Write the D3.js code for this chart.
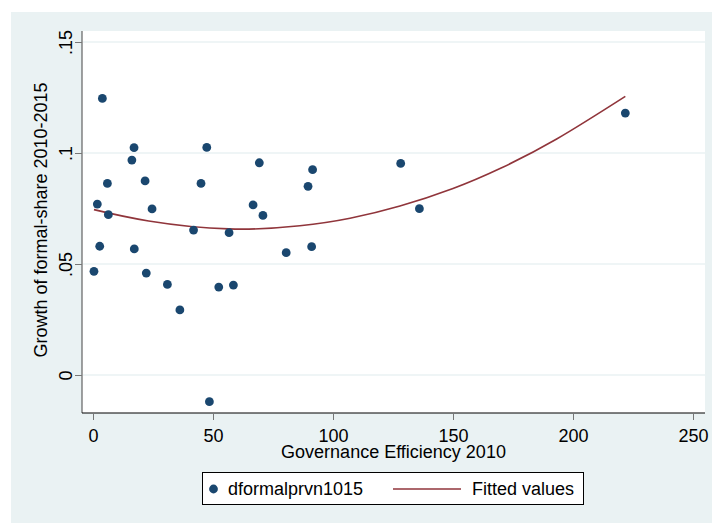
<!DOCTYPE html>
<html>
<head>
<meta charset="utf-8">
<script src="https://cdnjs.cloudflare.com/ajax/libs/d3/7.8.5/d3.min.js"></script>
<style>
  body { margin: 0; background: #ffffff; }
  text { font-family: "Liberation Sans", Arial, sans-serif; fill: #000; }
</style>
</head>
<body>
<script>
// governance efficiency 2010 (x) and growth of formal share (y)
var govEff = [0.4, 3.9, 1.8, 6.0, 6.4, 2.8, 17.1, 16.2, 21.7, 24.6, 17.2, 22.2, 31.0, 36.2,
              41.9, 45.0, 47.4, 48.5, 52.4, 56.7, 58.5, 66.7, 69.3, 70.8, 80.5, 89.6, 91.5,
              91.1, 128.2, 136.0, 221.8];
var growth = [0.0467, 0.1246, 0.0770, 0.0863, 0.0722, 0.0580, 0.1024, 0.0968, 0.0874, 0.0748,
              0.0568, 0.0459, 0.0408, 0.0293, 0.0653, 0.0863, 0.1025, -0.0120, 0.0396, 0.0641,
              0.0405, 0.0766, 0.0956, 0.0719, 0.0551, 0.0850, 0.0925, 0.0578, 0.0953, 0.0749,
              0.1180];

// fitted values (quadratic fit)
var fitX = [0.4, 23.2, 56.5, 86.2, 107.1, 127.9, 150.0, 169.6, 193.2, 221.8];
var fitY = [0.0745, 0.0694, 0.0658, 0.0672, 0.0706, 0.0761, 0.0840, 0.0930, 0.1063, 0.1255];

var xTicks = [0, 50, 100, 150, 200, 250];
var yTicks = [0, 0.05, 0.1, 0.15];
var yTickLabels = ["0", ".05", ".1", ".15"];

var seriesNames = ["dformalprvn1015", "Fitted values"];

var width = 712, height = 523;
var dotColor = "#1a476f", lineColor = "#90353b", bgColor = "#eaf2f3";
var fontSize = "18px";

var svg = d3.select("body").append("svg")
  .attr("width", width)
  .attr("height", height);

// outer graph region
svg.append("rect")
  .attr("x", 11).attr("y", 12)
  .attr("width", width - 11).attr("height", height - 12)
  .attr("fill", bgColor);

var plot = {left: 82, top: 31, right: 705, bottom: 413};

svg.append("rect")
  .attr("x", plot.left).attr("y", plot.top)
  .attr("width", plot.right - plot.left).attr("height", plot.bottom - plot.top)
  .attr("fill", "#ffffff");

var xScale = d3.scaleLinear().domain([0, 250]).range([93, 693]);
var yScale = d3.scaleLinear().domain([0, 0.15]).range([375, 42]);

// gridlines
svg.append("g").selectAll("line")
  .data(yTicks)
  .enter().append("line")
  .attr("x1", plot.left + 1).attr("x2", plot.right)
  .attr("y1", function(d) { return yScale(d); })
  .attr("y2", function(d) { return yScale(d); })
  .attr("stroke", bgColor)
  .attr("stroke-width", 1.5);

// y axis
var yAxis = svg.append("g")
  .attr("transform", "translate(" + plot.left + ",0)")
  .call(d3.axisLeft(yScale).tickValues(yTicks).tickSize(7).tickFormat(function(d, i) { return yTickLabels[i]; }));
yAxis.select(".domain").attr("d", "M0," + plot.top + "V" + plot.bottom).attr("stroke", "#444");
yAxis.selectAll(".tick line").attr("stroke", "#777");
yAxis.selectAll(".tick text")
  .attr("x", null).attr("dy", null)
  .attr("text-anchor", "middle")
  .attr("transform", "translate(-10,0) rotate(-90)")
  .attr("font-size", fontSize)
  .attr("font-family", "Liberation Sans, Arial, sans-serif")
  .attr("fill", "#000");

// x axis
var xAxis = svg.append("g")
  .attr("transform", "translate(0," + plot.bottom + ")")
  .call(d3.axisBottom(xScale).tickValues(xTicks).tickSize(7));
xAxis.select(".domain").attr("d", "M" + plot.left + ",0H" + plot.right).attr("stroke", "#000");
xAxis.selectAll(".tick line").attr("stroke", "#777");
xAxis.selectAll(".tick text")
  .attr("y", 29).attr("dy", null)
  .attr("font-size", fontSize)
  .attr("font-family", "Liberation Sans, Arial, sans-serif")
  .attr("fill", "#000");

// axis titles
svg.append("text")
  .attr("x", (plot.left + plot.right) / 2)
  .attr("y", 458)
  .attr("text-anchor", "middle")
  .attr("font-size", fontSize)
  .text("Governance Efficiency 2010");

svg.append("text")
  .attr("transform", "translate(47,220) rotate(-90)")
  .attr("text-anchor", "middle")
  .attr("font-size", fontSize)
  .text("Growth of formal-share 2010-2015");

// fitted line
var fitData = fitX.map(function(d, i) { return {x: d, y: fitY[i]}; });
var line = d3.line()
  .x(function(d) { return xScale(d.x); })
  .y(function(d) { return yScale(d.y); })
  .curve(d3.curveNatural);

svg.append("path")
  .datum(fitData)
  .attr("d", line)
  .attr("fill", "none")
  .attr("stroke", lineColor)
  .attr("stroke-width", 1.6);

// scatter points
var points = govEff.map(function(d, i) { return {x: d, y: growth[i]}; });
svg.append("g").selectAll("circle")
  .data(points)
  .enter().append("circle")
  .attr("cx", function(d) { return xScale(d.x); })
  .attr("cy", function(d) { return yScale(d.y); })
  .attr("r", 4.4)
  .attr("fill", dotColor);

// legend
var legend = svg.append("g");
legend.append("rect")
  .attr("x", 202.5).attr("y", 472.5)
  .attr("width", 381).attr("height", 32)
  .attr("fill", "#ffffff")
  .attr("stroke", "#000")
  .attr("stroke-width", 1);
legend.append("circle")
  .attr("cx", 213.5).attr("cy", 489)
  .attr("r", 4.4)
  .attr("fill", dotColor);
legend.append("text")
  .attr("x", 228).attr("y", 495)
  .attr("font-size", fontSize)
  .text(seriesNames[0]);
legend.append("line")
  .attr("x1", 393).attr("x2", 461)
  .attr("y1", 489).attr("y2", 489)
  .attr("stroke", lineColor)
  .attr("stroke-width", 1.6);
legend.append("text")
  .attr("x", 472).attr("y", 495)
  .attr("font-size", fontSize)
  .text(seriesNames[1]);
</script>
</body>
</html>
